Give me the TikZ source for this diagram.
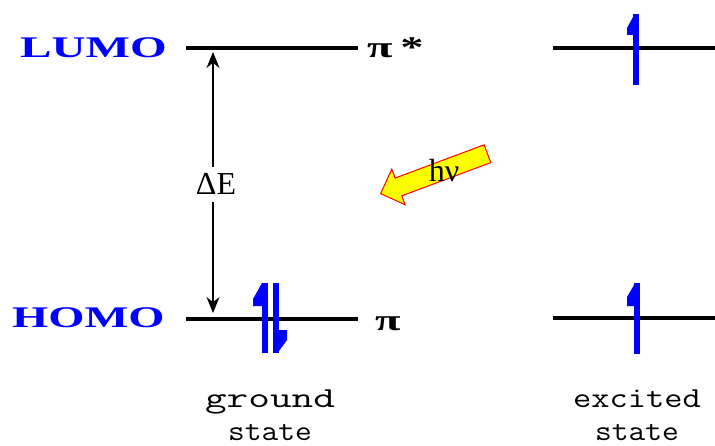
\documentclass[tikz,border=0pt]{standalone}
\usepackage{fontspec}
\setmainfont{Liberation Serif}
\usepackage{graphicx}
\usetikzlibrary{positioning,shapes.arrows,arrows.meta}
\definecolor{orbBlue}{RGB}{0, 0, 255}
\definecolor{photonRed}{RGB}{255, 0, 0}
\definecolor{photonYellow}{RGB}{255, 255, 0}

\begin{document}
\begin{tikzpicture}[
            x=1pt, y=1pt,
            level/.style={line width=3.5pt},
            orb/.style={text=orbBlue, font=\fontsize{30}{30}\selectfont\bfseries, inner sep=0pt, anchor=base west},
            sym/.style={font=\fontsize{30}{30}\selectfont\bfseries, inner sep=0pt, anchor=base west},
            gaplabel/.style={font=\fontsize{32}{32}\selectfont, inner sep=7pt, anchor=base},
            gap/.style={-{Stealth[length=16pt,width=13pt]}, line width=1.3pt},
            spin/.style={orbBlue, line width=6pt},
            flag/.style={fill=orbBlue},
            photon/.style={single arrow, draw=photonRed, fill=photonYellow, line width=1pt, inner sep=9pt, minimum width=37pt, minimum height=114pt, single arrow head extend=9.5pt, single arrow head indent=0pt},
            caption/.style={font=\fontsize{29}{29}\ttfamily, inner sep=0pt, anchor=base}
        ]
            \useasboundingbox (0,0) rectangle (715,445);

            % orbital labels
            \node[orb] (lumo) at (20,387) {\scalebox{1.57}[1]{LUMO}};
            \node[orb] (homo) at (12,118) {\scalebox{1.55}[1]{HOMO}};
            \node[sym] (pistar) at (367,387) {\scalebox{1.55}[1]{π\,*}};
            \node[sym] (pi) at (375,115) {\scalebox{1.55}[1]{π}};

            % energy levels
            \coordinate (gLa) at (186,397);
            \coordinate (gLb) at (358,397);
            \coordinate (gHa) at (186,126);
            \coordinate (gHb) at (358,126);
            \coordinate (eLa) at (553,397);
            \coordinate (eLb) at (716,397);
            \coordinate (eHa) at (553,127);
            \coordinate (eHb) at (716,127);

            \draw[level] (gLa) -- (gLb);
            \draw[level] (gHa) -- (gHb);
            \draw[level] (eLa) -- (eLb);
            \draw[level] (eHa) -- (eHb);

            % energy gap
            \node[gaplabel] (delta) at (216,250) {ΔE};
            \coordinate (gapTop) at (213,393);
            \coordinate (gapBot) at (213,132);
            \draw[gap] (delta.north -| gapTop) -- (gapTop);
            \draw[gap] (delta.south -| gapBot) -- (gapBot);

            % electrons, ground state
            \draw[spin] (265,92) -- (265,162);
            \fill[flag] (262,162) -- (253,146) -- (253,139) -- (262,139) -- cycle;
            \draw[spin] (276,92) -- (276,162);
            \fill[flag] (279,115) -- (287,115) -- (287,105) -- (279,94) -- cycle;

            % electrons, excited state
            \draw[spin] (636,360) -- (636,431);
            \fill[flag] (633,428) -- (627,417) -- (627,410) -- (633,410) -- cycle;
            \draw[spin] (637,91) -- (637,162);
            \fill[flag] (634,160) -- (627,148) -- (627,139) -- (634,139) -- cycle;

            % photon
            \node[photon, rotate=200.5] (photon) at (438.5,273) {};
            \node[font=\fontsize{32}{32}\selectfont, inner sep=0pt] (hnu) at (444,274) {hν};

            % captions
            \node[caption] (gcap) at (270,38) {\scalebox{1.45}[1]{ground}};
            \node[caption] (gstate) at (270,5) {\scalebox{1.12}[1]{state}};
            \node[caption] (ecap) at (637,38) {\scalebox{1.22}[1]{excited}};
            \node[caption] (estate) at (637,5) {\scalebox{1.12}[1]{state}};
        \end{tikzpicture}
\end{document}
